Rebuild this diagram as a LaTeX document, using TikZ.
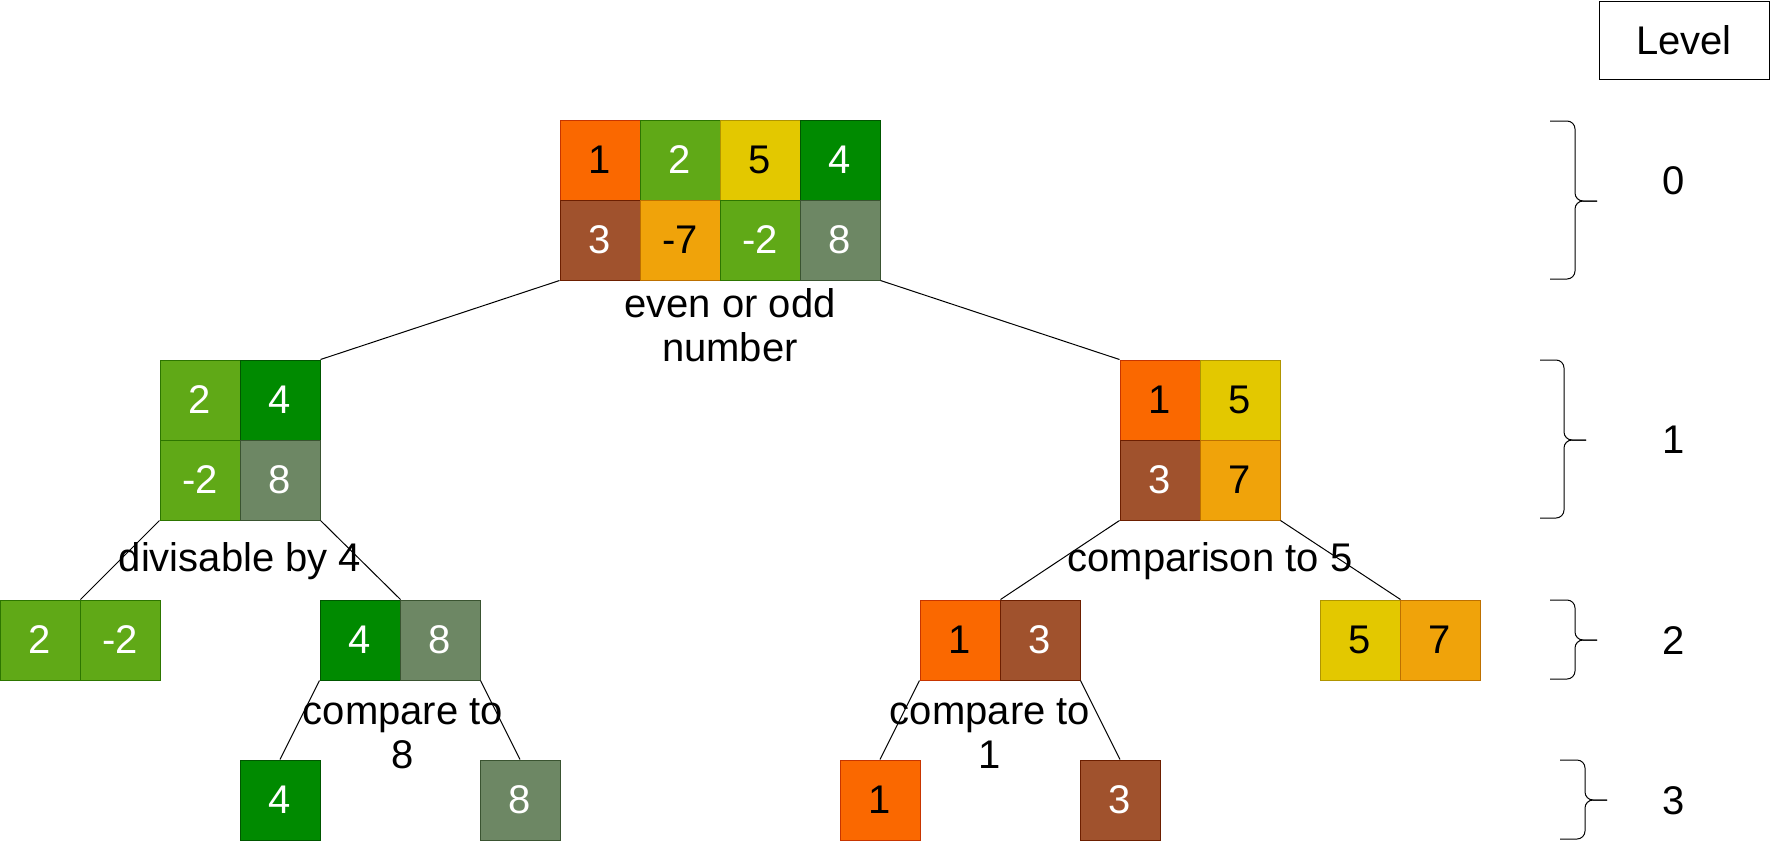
\documentclass[tikz,border=0pt]{standalone}
\usepackage{fontspec}
\setmainfont{Liberation Sans}
\usepackage{tikz}
\usetikzlibrary{positioning}
\definecolor{orngfill}{HTML}{FA6800}\definecolor{orngline}{HTML}{C73500}
\definecolor{grnfill}{HTML}{60A917}\definecolor{grnline}{HTML}{2D7600}
\definecolor{yelfill}{HTML}{E3C800}\definecolor{yelline}{HTML}{B09500}
\definecolor{dgrnfill}{HTML}{008A00}\definecolor{dgrnline}{HTML}{005700}
\definecolor{brnfill}{HTML}{A0522D}\definecolor{brnline}{HTML}{6D1F00}
\definecolor{ambfill}{HTML}{F0A30A}\definecolor{ambline}{HTML}{BD7000}
\definecolor{olvfill}{HTML}{6D8764}\definecolor{olvline}{HTML}{3A5431}
\newcommand{\levelbrace}[6]{
  \draw[rounded corners=4pt] (#1,#4) -- (#2,#4) -- (#2,#5) -- (#3,#5);
  \draw[rounded corners=4pt] (#1,#6) -- (#2,#6) -- (#2,#5) -- (#3,#5);
}
\tikzset{
  txt/.style={font=\fontsize{20}{22}\selectfont},
  cell/.style={txt,draw,minimum size=40pt,inner sep=0pt,line width=0.5pt},
  cOrange/.style={cell,fill=orngfill,draw=orngline,text=black},
  cGreen/.style={cell,fill=grnfill,draw=grnline,text=white},
  cYellow/.style={cell,fill=yelfill,draw=yelline,text=black},
  cDkGreen/.style={cell,fill=dgrnfill,draw=dgrnline,text=white},
  cBrown/.style={cell,fill=brnfill,draw=brnline,text=white},
  cAmber/.style={cell,fill=ambfill,draw=ambline,text=black},
  cOlive/.style={cell,fill=olvfill,draw=olvline,text=white},
  lbl/.style={txt,align=center,inner sep=0pt},
}
\begin{document}
\begin{tikzpicture}[x=0.5pt,y=-0.5pt,line width=0.5pt]
\useasboundingbox (0,0) rectangle (1771,841);
% level 0
\node[cOrange]  (root1) at (600,160) {1};
\node[cGreen]   (root2) at (680,160) {2};
\node[cYellow]  (root3) at (760,160) {5};
\node[cDkGreen] (root4) at (840,160) {4};
\node[cBrown]   (root5) at (600,240) {3};
\node[cAmber]   (root6) at (680,240) {-7};
\node[cGreen]   (root7) at (760,240) {-2};
\node[cOlive]   (root8) at (840,240) {8};
% level 1
\node[cGreen]   (even1) at (200,400) {2};
\node[cDkGreen] (even2) at (280,400) {4};
\node[cGreen]   (even3) at (200,480) {-2};
\node[cOlive]   (even4) at (280,480) {8};
\node[cOrange]  (odd1) at (1160,400) {1};
\node[cYellow]  (odd2) at (1240,400) {5};
\node[cBrown]   (odd3) at (1160,480) {3};
\node[cAmber]   (odd4) at (1240,480) {7};
% level 2
\node[cGreen]   (div1) at (40,640) {2};
\node[cGreen]   (div2) at (120,640) {-2};
\node[cDkGreen] (four1) at (360,640) {4};
\node[cOlive]   (four2) at (440,640) {8};
\node[cOrange]  (small1) at (960,640) {1};
\node[cBrown]   (small2) at (1040,640) {3};
\node[cYellow]  (big1) at (1360,640) {5};
\node[cAmber]   (big2) at (1440,640) {7};
% level 3
\node[cDkGreen] (leaf4) at (280,800) {4};
\node[cOlive]   (leaf8) at (520,800) {8};
\node[cOrange]  (leaf1) at (880,800) {1};
\node[cBrown]   (leaf3) at (1120,800) {3};

\draw (root5.south west) -- (even2.north east);
\draw (root8.south east) -- (odd1.north west);
\draw (even3.south west) -- (div1.north east);
\draw (even4.south east) -- (four1.north east);
\draw (odd3.south west) -- (small1.north east);
\draw (odd4.south east) -- (big1.north east);
\draw (four1.south west) -- (leaf4.north);
\draw (four2.south east) -- (leaf8.north);
\draw (small1.south west) -- (leaf1.north);
\draw (small2.south east) -- (leaf3.north);

\node[lbl] (evenodd) at (730,325) {even or odd\\number};
\node[lbl] (div4) at (240,561) {divisable by 4};
\node[lbl] (cmp5) at (1210,561) {comparison to 5};
\node[lbl] (cmp8) at (403,734) {compare to\\8};
\node[lbl] (cmp1) at (990,734) {compare to\\1};

% levels
\node[txt,draw,minimum width=85pt,minimum height=39pt,inner sep=0pt] (level) at (1684,40.5) {Level};
\node[txt] (lev0) at (1674,181) {0};
\node[txt] (lev1) at (1674,440) {1};
\node[txt] (lev2) at (1674,641) {2};
\node[txt] (lev3) at (1674,801) {3};
\levelbrace{1550}{1575}{1597}{121}{201}{279}
\levelbrace{1540}{1564}{1586}{360}{440}{518}
\levelbrace{1550}{1575}{1597}{600}{640}{679}
\levelbrace{1560}{1585}{1607}{760}{800}{839}
\end{tikzpicture}
\end{document}
